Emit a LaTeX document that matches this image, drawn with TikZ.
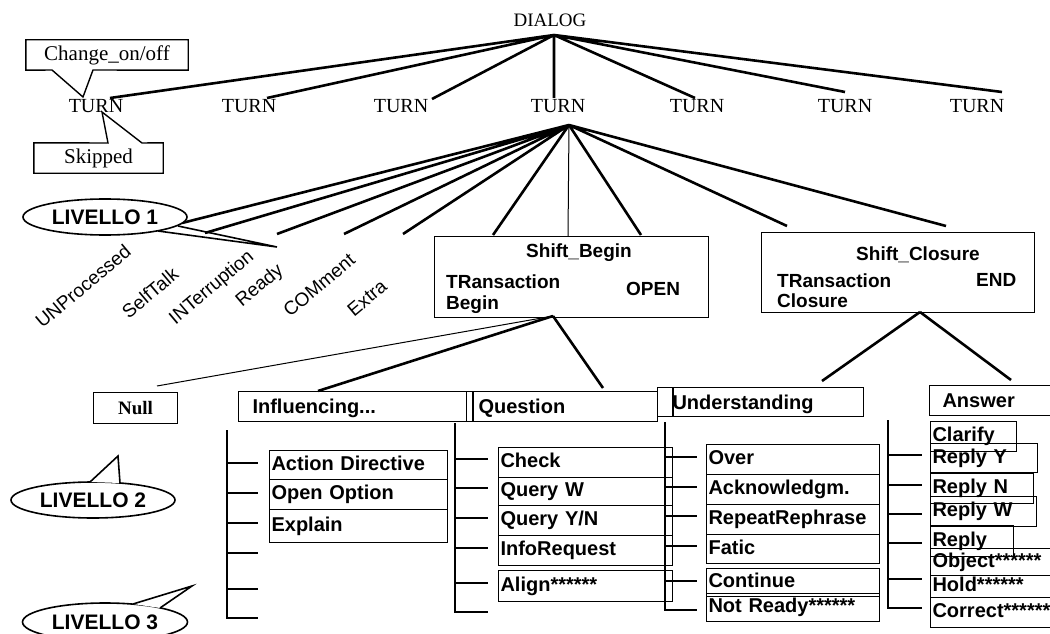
\documentclass[tikz,border=0pt]{standalone}
\usepackage{fontspec}
\setmainfont{Liberation Sans}
\newfontfamily\timesrm{Liberation Serif}
\usepackage{tikz}
\usetikzlibrary{shapes.geometric}

\begin{document}
\begin{tikzpicture}[x=1pt, y=-1pt,
  heavy/.style={line width=2.6pt},
  light/.style={line width=1pt},
  frame/.style={draw, line width=1.1pt},
  serifword/.style={font=\timesrm\fontsize{20}{24}\selectfont, inner sep=0pt, anchor=base},
  tilted/.style={font=\fontsize{19}{23}\selectfont, inner sep=0pt, rotate=40},
  boxword/.style={font=\bfseries\fontsize{19}{23}\selectfont, inner sep=0pt, anchor=base west},
  headbox/.style={frame, anchor=north west, inner ysep=0pt, align=left,
    text height=14pt, text depth=0pt, font=\bfseries\fontsize{20}{24}\selectfont},
  itembox/.style={frame, anchor=north west, inner xsep=2pt, inner ysep=0pt, align=left,
    text height=14pt, text depth=4pt, font=\bfseries\fontsize{20}{24}\selectfont},
  livello/.style={ellipse, draw, fill=white, line width=1.6pt, inner sep=0pt,
    minimum width=164pt, minimum height=36pt, font=\bfseries\fontsize{21}{25}\selectfont}
]
  % Page
  \useasboundingbox[fill=white] (0,0) rectangle (1050,634);

  % Dialog and its turns
  \node[serifword, font=\timesrm\fontsize{19}{23}\selectfont] (Dialog) at (550,27) {DIALOG};
  \node[serifword] (Turn1) at (96,113) {TURN};
  \node[serifword] (Turn2) at (249,113) {TURN};
  \node[serifword] (Turn3) at (401,113) {TURN};
  \node[serifword] (Turn4) at (558,113) {TURN};
  \node[serifword] (Turn5) at (697,113) {TURN};
  \node[serifword] (Turn6) at (845,113) {TURN};
  \node[serifword] (Turn7) at (977,112) {TURN};

  \coordinate (DialogRoot) at (554,35);
  \coordinate (T1End) at (110,98);
  \coordinate (T2End) at (267,98);
  \coordinate (T3End) at (432,99);
  \coordinate (T4End) at (554,98);
  \coordinate (T5End) at (695,98);
  \coordinate (T6End) at (845,92);
  \coordinate (T7End) at (1002,92);
  \draw[heavy] (DialogRoot) -- (T1End) (DialogRoot) -- (T2End) (DialogRoot) -- (T3End)
    (DialogRoot) -- (T4End) (DialogRoot) -- (T5End) (DialogRoot) -- (T6End)
    (DialogRoot) -- (T7End);

  % Callouts on the first turn
  \node[font=\timesrm\fontsize{21}{25}\selectfont, minimum width=162pt, minimum height=30pt,
    inner sep=0pt] (Change) at (107,55) {Change\_on/off};
  \coordinate (ChangeTip) at (83,97);
  \draw[line width=1.4pt] (Change.south west) -- (Change.north west) -- (Change.north east)
    -- (Change.south east) -- (93,70) -- (ChangeTip) -- (52,70) -- cycle;

  \node[font=\timesrm\fontsize{21}{25}\selectfont, minimum width=129pt, minimum height=30pt,
    inner sep=0pt] (Skipped) at (98.5,158) {Skipped};
  \coordinate (SkipTip) at (102,112);
  \draw[line width=1.4pt] (Skipped.north west) -- (108,143) -- (SkipTip) -- (142,143)
    -- (Skipped.north east) -- (Skipped.south east) -- (Skipped.south west) -- cycle;

  % Level 1 fan from the central turn
  \coordinate (TurnRoot) at (569,125);
  \coordinate (F1) at (182,223);
  \coordinate (F2) at (205,233);
  \coordinate (F3) at (277,234);
  \coordinate (F4) at (344,234);
  \coordinate (F5) at (403,234);
  \coordinate (F6) at (493,235);
  \coordinate (F7) at (568,236);
  \coordinate (F8) at (641,235);
  \coordinate (F9) at (787,226);
  \coordinate (F10) at (946,226);
  \draw[heavy] (TurnRoot) -- (F1) (TurnRoot) -- (F2) (TurnRoot) -- (F3) (TurnRoot) -- (F4)
    (TurnRoot) -- (F5) (TurnRoot) -- (F6) (TurnRoot) -- (F8) (TurnRoot) -- (F9)
    (TurnRoot) -- (F10);
  \draw[light] (TurnRoot) -- (F7);

  % Level 1 labels
  \node[livello] (Liv1) at (105,217) {LIVELLO 1};
  \coordinate (Liv1Tip) at (277,247);
  \draw[line width=1.6pt] (158,231) -- (Liv1Tip) -- (178,226);

  \node[tilted] (Unproc) at (83,286) {UNProcessed};
  \node[tilted] (SelfTalk) at (150,293) {SelfTalk};
  \node[tilted] (Interr) at (212,288) {INTerruption};
  \node[tilted] (Ready) at (260,286) {Ready};
  \node[tilted] (Comment) at (319,285) {COMment};
  \node[tilted] (Extra) at (367,298) {Extra};

  % Shift boxes
  \node[frame, anchor=north west, minimum width=274pt, minimum height=81pt, inner sep=0pt]
    (ShiftBegin) at (434,236) {};
  \node[boxword, anchor=base] (SBTitle) at (579,257) {Shift\_Begin};
  \node[boxword] (SBTrans) at (446,288) {TRansaction};
  \node[boxword] (SBBegin) at (446,309) {Begin};
  \node[boxword] (SBOpen) at (626,295) {OPEN};

  \node[frame, anchor=north west, minimum width=273pt, minimum height=80pt, inner sep=0pt]
    (ShiftClose) at (761,232) {};
  \node[boxword, anchor=base] (SCTitle) at (918,260) {Shift\_Closure};
  \node[boxword] (SCTrans) at (777,287) {TRansaction};
  \node[boxword] (SCClose) at (777,307) {Closure};
  \node[boxword] (SCEnd) at (976,286) {END};

  % Level 2
  \node[frame, anchor=north west, minimum width=84pt, minimum height=31pt, inner sep=0pt,
    font=\timesrm\bfseries\fontsize{19}{23}\selectfont] (Null) at (93,392) {Null};
  \node[headbox, inner xsep=14pt, text width=200pt, minimum height=30pt] (Influ) at (238,391) {Influencing...};
  \node[headbox, inner xsep=12pt, text width=167pt, minimum height=30pt] (Quest) at (466,391) {Question};
  \node[headbox, inner xsep=15pt, text width=176pt, minimum height=29pt] (Under) at (657,387) {Understanding};
  \node[headbox, inner xsep=13pt, text width=97pt, minimum height=30pt] (Answer) at (929,385) {Answer};
  \draw[line width=1.1pt] ([xshift=7pt]Quest.north west) -- ([xshift=7pt]Quest.south west);
  \draw[line width=1.1pt] ([xshift=16pt]Under.north west) -- ([xshift=16pt]Under.south west);

  \coordinate (SBRoot) at (553,316);
  \coordinate (NullEnd) at (157,386);
  \coordinate (InfluEnd) at (318,391);
  \coordinate (QuestEnd) at (603,388);
  \draw[light] (SBRoot) -- (NullEnd);
  \draw[heavy] (SBRoot) -- (InfluEnd) (SBRoot) -- (QuestEnd);
  \coordinate (SCRoot) at (920,312);
  \coordinate (UnderEnd) at (822,381);
  \coordinate (AnswerEnd) at (1011,380);
  \draw[heavy] (SCRoot) -- (UnderEnd) (SCRoot) -- (AnswerEnd);

  \node[livello] (Liv2) at (93,500) {LIVELLO 2};
  \draw[line width=1.6pt, fill=white] (90,482) -- (118,456) -- (120,483);

  % Level 3: influencing
  \draw[heavy] (227,430) -- (227,618) -- (258,618) (227,463) -- (258,463) (227,493) -- (258,493)
    (227,523) -- (258,523) (227,553) -- (258,553) (227,589) -- (258,589);
  \node[itembox, text width=174pt, minimum height=29pt] (ActDir) at (269,450) {Action Directive};
  \node[itembox, text width=174pt, minimum height=30pt] (OpenOpt) at (269,479) {Open Option};
  \node[itembox, text width=174pt, minimum height=33pt] (Explain) at (269,509) {Explain};

  % Level 3: question
  \draw[heavy] (455,423) -- (455,612) -- (488,612) (455,459) -- (488,459) (455,488) -- (488,488)
    (455,518) -- (488,518) (455,548) -- (488,548) (455,583) -- (488,583);
  \node[itembox, text width=170pt, minimum height=30pt] (Check) at (498,447) {Check};
  \node[itembox, text width=170pt, minimum height=28pt] (QueryW) at (498,477) {Query W};
  \node[itembox, text width=170pt, minimum height=30pt] (QueryYN) at (498,505) {Query Y/N};
  \node[itembox, text width=170pt, minimum height=30pt] (InfoReq) at (498,535) {InfoRequest};
  \node[itembox, text width=170pt, minimum height=31pt] (Align) at (498,570) {Align******};

  % Level 3: understanding
  \draw[heavy] (665,422) -- (665,610) -- (697,610) (665,457) -- (697,457) (665,487) -- (697,487)
    (665,516) -- (697,516) (665,546) -- (697,546) (665,581) -- (697,581);
  \node[itembox, text width=169pt, minimum height=30pt] (Over) at (706,444) {Over};
  \node[itembox, text width=169pt, minimum height=30pt] (Ackn) at (706,474) {Acknowledgm.};
  \node[itembox, text width=169pt, minimum height=30pt] (Repeat) at (706,504) {RepeatRephrase};
  \node[itembox, text width=169pt, minimum height=29pt] (Fatic) at (706,534) {Fatic};
  \node[itembox, text width=169pt, minimum height=28pt] (Continue) at (706,568) {Continue};
  \node[itembox, text width=169pt, minimum height=28pt] (NotReady) at (706,593) {Not Ready******};

  % Level 3: answer
  \draw[heavy] (888,420) -- (888,608) -- (922,608) (888,455) -- (922,455) (888,485) -- (922,485)
    (888,514) -- (922,514) (888,543) -- (922,543) (888,579) -- (922,579);
  \node[itembox, text width=82pt, minimum height=30pt] (Clarify) at (930,421) {Clarify};
  \node[itembox, text width=103pt, minimum height=29pt] (ReplyY) at (930,443) {Reply Y};
  \node[itembox, text width=99pt, minimum height=30pt] (ReplyN) at (930,473) {Reply N};
  \node[itembox, text width=102pt, minimum height=30pt] (ReplyW) at (930,496) {Reply W};
  \node[itembox, text width=79pt, minimum height=31pt] (Reply) at (930,525) {Reply};
  \node[itembox, text width=121pt, minimum height=27pt] (Object) at (930,548) {Object******};
  \node[itembox, text width=121pt, minimum height=22pt] (Hold) at (930,575) {Hold******};
  \node[itembox, text width=121pt, minimum height=30pt] (Correct) at (930,597) {Correct******};

  \node[livello, minimum width=165pt, minimum height=38pt] (Liv3) at (105,622) {LIVELLO 3};
  \draw[line width=1.6pt, fill=white] (133,604) -- (192,586) -- (160,608);
\end{tikzpicture}
\end{document}
